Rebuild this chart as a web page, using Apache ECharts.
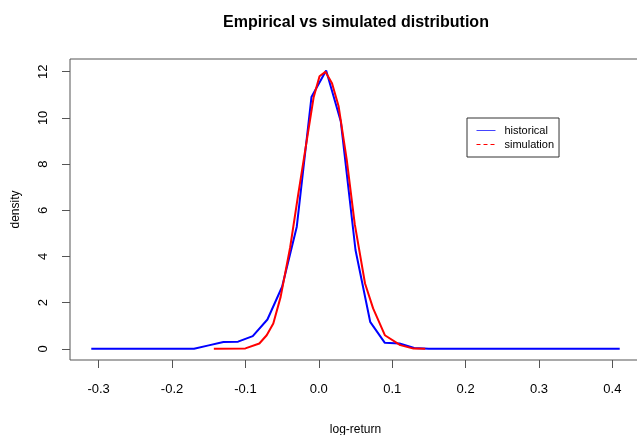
<!DOCTYPE html>
<html>
<head>
<meta charset="utf-8">
<script src="https://cdn.jsdelivr.net/npm/echarts@6/dist/echarts.min.js"></script>
<style>
  html, body { margin: 0; padding: 0; background: #fff; }
  #chart { width: 637px; height: 435px; }
</style>
</head>
<body>
<div id="chart"></div>
<script>
// histogram density of the observed log-returns (bin mids, width 0.02)
var histX = [-0.31, -0.29, -0.27, -0.25, -0.23, -0.21, -0.19, -0.17, -0.15, -0.13,
  -0.11, -0.09, -0.07, -0.05, -0.03, -0.01, 0.01, 0.03, 0.05, 0.07,
  0.09, 0.11, 0.13, 0.15, 0.17, 0.19, 0.21, 0.23, 0.25, 0.27,
  0.29, 0.31, 0.33, 0.35, 0.37, 0.39, 0.41];
var histY = [0, 0, 0, 0, 0, 0, 0, 0, 0.15, 0.30,
  0.31, 0.55, 1.27, 2.69, 5.29, 10.9, 12.05, 9.84, 4.28, 1.17,
  0.26, 0.23, 0.04, 0, 0, 0, 0, 0, 0, 0,
  0, 0, 0, 0, 0, 0, 0];

// density of the simulated returns
var simX = [-0.143, -0.100, -0.081, -0.071, -0.062, -0.052, -0.039, -0.028, -0.016, -0.007,
  0.001, 0.009, 0.018, 0.027, 0.038, 0.049, 0.063, 0.074, 0.090, 0.111,
  0.129, 0.145];
var simY = [0, 0.02, 0.23, 0.59, 1.10, 2.25, 4.4, 6.7, 9.1, 10.9,
  11.8, 12.0, 11.5, 10.5, 8.2, 5.4, 2.83, 1.75, 0.59, 0.16,
  0.01, 0];

var xTicks = [-0.3, -0.2, -0.1, 0.0, 0.1, 0.2, 0.3, 0.4];
var yTicks = [0, 2, 4, 6, 8, 10, 12];

function pairs(xs, ys) {
  var out = [];
  for (var i = 0; i < xs.length; i++) {
    out.push([xs[i], ys[i]]);
  }
  return out;
}

var chart = echarts.init(document.getElementById("chart"));
chart.setOption({
  animation: false,
  textStyle: { fontFamily: "Liberation Sans, Arial, sans-serif" },
  title: {
    text: "Empirical vs simulated distribution",
    left: 351,
    top: 10,
    textAlign: "center",
    textStyle: { fontSize: 16, fontWeight: "bold", color: "#000" }
  },
  legend: {
    orient: "vertical",
    left: 467,
    top: 118,
    padding: [7, 5, 7, 9],
    itemGap: 3,
    itemWidth: 19,
    itemHeight: 10,
    borderColor: "#333",
    borderWidth: 1,
    textStyle: { fontSize: 11, color: "#000", padding: [0, 0, 0, 4] },
    data: [
      { name: "historical", itemStyle: { opacity: 0 }, lineStyle: { width: 1, color: "#4444ff" } },
      { name: "simulation", itemStyle: { opacity: 0 }, lineStyle: { width: 1, type: [4, 3] } }
    ]
  },
  grid: {
    left: 70,
    right: -4,
    top: 59,
    bottom: 75,
    outerBoundsMode: "none",
    show: true,
    borderColor: "#555",
    borderWidth: 1
  },
  xAxis: {
    type: "value",
    min: -0.339,
    max: 0.439,
    name: "log-return",
    nameLocation: "middle",
    nameGap: 64,
    nameTextStyle: { fontSize: 12, color: "#000" },
    splitLine: { show: false },
    axisLine: { show: false, onZero: false },
    axisTick: {
      show: true,
      inside: false,
      length: 8,
      customValues: xTicks,
      lineStyle: { color: "#555" }
    },
    axisLabel: {
      customValues: xTicks,
      margin: 23,
      fontSize: 13,
      color: "#000",
      formatter: function (v) { return v.toFixed(1); }
    }
  },
  yAxis: {
    type: "value",
    min: -0.483,
    max: 12.55,
    name: "density",
    nameLocation: "middle",
    nameGap: 48,
    nameTextStyle: { fontSize: 12, color: "#000" },
    splitLine: { show: false },
    axisLine: { show: false, onZero: false },
    axisTick: {
      show: true,
      inside: false,
      length: 8,
      customValues: yTicks,
      lineStyle: { color: "#555" }
    },
    axisLabel: {
      customValues: yTicks,
      rotate: 90,
      margin: 20,
      fontSize: 13,
      color: "#000"
    }
  },
  series: [
    {
      name: "historical",
      type: "line",
      symbol: "none",
      lineStyle: { color: "#0000ff", width: 2 },
      itemStyle: { color: "#0000ff" },
      data: pairs(histX, histY)
    },
    {
      name: "simulation",
      type: "line",
      symbol: "none",
      lineStyle: { color: "#ff0000", width: 2 },
      itemStyle: { color: "#ff0000" },
      data: pairs(simX, simY)
    }
  ]
});
</script>
</body>
</html>
